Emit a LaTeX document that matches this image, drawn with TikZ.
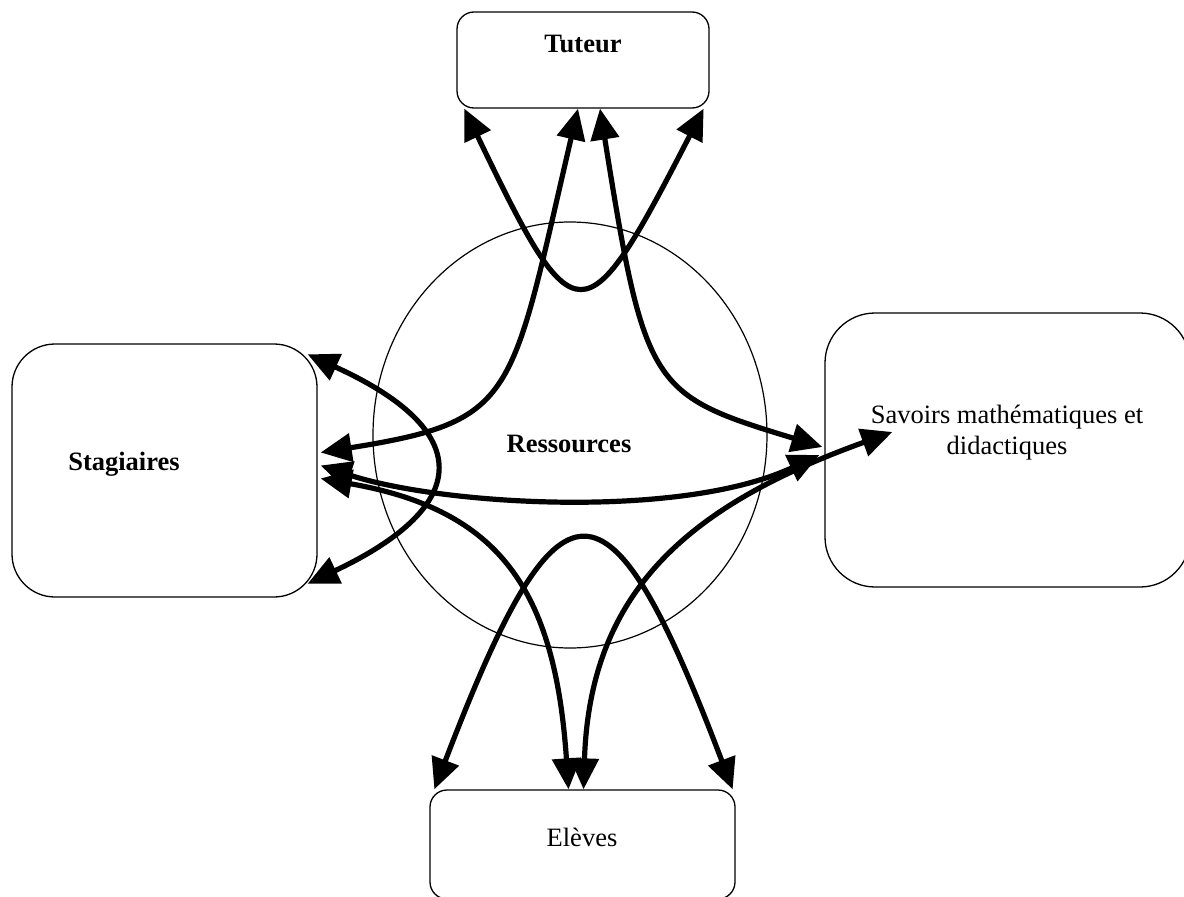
\documentclass[tikz,border=0pt]{standalone}
\usepackage{fontspec}
\setmainfont{Liberation Serif}
\usetikzlibrary{arrows.meta,shapes.geometric}

\begin{document}
\begin{tikzpicture}[x=1pt,y=-1pt,
        boite/.style={draw, line width=1.3pt, rounded corners=#1, inner sep=0pt},
        texte/.style={font=\fontsize{26.5}{31}\selectfont, align=center, inner sep=0pt},
        lien/.style={line width=5.2pt, {Triangle[length=31pt,width=28pt]}-{Triangle[length=31pt,width=28pt]}}]
                \useasboundingbox (0,0) rectangle (1184,897);

                \node[boite=17pt, minimum width=252pt, minimum height=96pt] (tuteur) at (583,60) {};
                \node[boite=43pt, minimum width=305pt, minimum height=253pt] (stag) at (164.5,470.5) {};
                \node[boite=50pt, minimum width=365pt, minimum height=274pt] (savoirs) at (1007.5,450) {};
                \node[boite=17pt, minimum width=305pt, minimum height=109pt] (eleves) at (582.5,844.5) {};
                \node[draw, ellipse, line width=1.2pt, minimum width=394pt, minimum height=426pt, inner sep=0pt] (res) at (570,435) {};

                \node[texte, anchor=base] (tuteurtxt) at (583,52) {\textbf{Tuteur}};
                \node[texte, anchor=base] (stagtxt) at (124,470) {\textbf{Stagiaires}};
                \node[texte, anchor=base] (restxt) at (569,452) {\textbf{Ressources}};
                \node[texte] (savtxt) at (1007,433) {Savoirs mathématiques et\\didactiques};
                \node[texte, anchor=base] (elevtxt) at (582,846) {Elèves};

                \draw[lien] ([xshift=8pt]tuteur.south west) .. controls (576,341) and (584,341) .. ([xshift=-6pt]tuteur.south east);
                \draw[lien] ([xshift=-5pt]tuteur.south) .. controls (510,400) and (518,421) .. ([xshift=3pt,yshift=18pt]stag.east);
                \draw[lien] ([xshift=17pt]tuteur.south) .. controls (645,390) and (651,395) .. ([xshift=-2pt,yshift=3pt]savoirs.west);

                \draw[lien] ([xshift=-10pt,yshift=-11pt]stag.north east) .. controls (474,430) and (474,505) .. ([xshift=-10pt,yshift=14pt]stag.south east);
                \draw[lien] ([xshift=3pt,yshift=5pt]stag.east) .. controls (440,505) and (680,520) .. ([xshift=-5pt,yshift=-5pt]savoirs.west);
                \draw[lien] ([xshift=3pt,yshift=-8pt]stag.east) .. controls (500,510) and (555,590) .. ([xshift=-14pt]eleves.north);

                \draw[lien] ([xshift=1pt]eleves.north) .. controls (590,590) and (690,505) .. ([xshift=68pt,yshift=18pt]savoirs.west);
                \draw[lien] ([xshift=5pt]eleves.north west) .. controls (560,461) and (608,461) .. ([xshift=-3pt]eleves.north east);
            \end{tikzpicture}
\end{document}
